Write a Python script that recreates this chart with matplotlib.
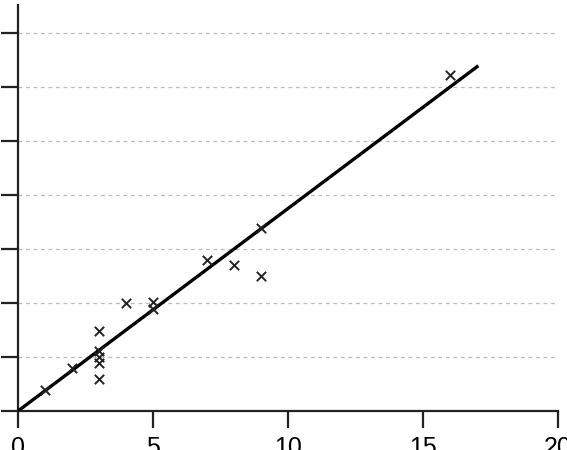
import numpy as np
import matplotlib.pyplot as plt

#data
xs = [1, 2, 3, 3, 3, 3, 3, 4, 5, 5, 7, 8, 9, 9, 16]
ys = [1.95, 4.0, 7.45, 5.55, 5.0, 4.45, 2.95, 10.0, 10.05, 9.4, 14.0, 13.5, 16.9, 12.5, 31.1]
fit_slope = 1.875  #slope of the line through the origin
fit_end = 17
xticks = [0, 5, 10, 15, 20]
yticks = [0, 5, 10, 15, 20, 25, 30, 35]

plt.rcParams['font.family'] = ['Liberation Sans', 'DejaVu Sans']

fig = plt.figure(figsize=(5.67, 4.5), dpi=100)
ax = fig.add_axes([18/567, 39/450, 540/567, 406/450])

#dashed grid at the y ticks
for yv in yticks[1:]:
    ax.axhline(yv, color='#bbbbbb', lw=0.9, ls=(0, (3, 3)), zorder=1)

fitx = np.array([0, fit_end])
ax.plot(fitx, fit_slope * fitx, color='black', lw=2.4, zorder=3)
ax.scatter(xs, ys, marker='x', s=45, color='#222222', linewidths=1.4, zorder=4)

ax.set_xlim(0, 20)
ax.set_ylim(0, 406/10.8)
ax.set_xticks(xticks)
ax.set_yticks(yticks)
ax.set_yticklabels([])
ax.tick_params(axis='both', length=12, width=1.6, direction='out', labelsize=18, pad=6, color='#222222')
for side in ['top', 'right']:
    ax.spines[side].set_visible(False)
for side in ['left', 'bottom']:
    ax.spines[side].set_linewidth(1.6)
    ax.spines[side].set_color('#222222')

fig.savefig('out.png', dpi=100)
